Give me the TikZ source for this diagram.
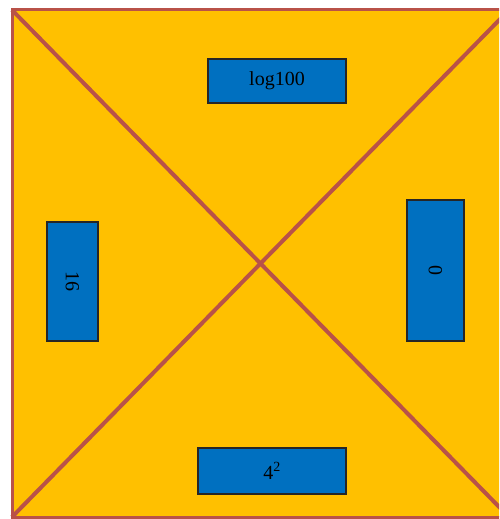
\documentclass[tikz,border=0pt]{standalone}
\usepackage{fontspec}
\setmainfont{Liberation Serif}
\usetikzlibrary{positioning}
\definecolor{cEdge}{RGB}{185,82,72}
\definecolor{cSq}{RGB}{255,192,0}
\definecolor{cBox}{RGB}{0,112,192}

\begin{document}
\begin{tikzpicture}[x=1pt,y=-1pt,
  card/.style={draw=black!85,fill=cBox,line width=1.3pt,inner sep=0pt,
    font=\fontsize{20}{20}\selectfont}]
  \useasboundingbox (0,0) rectangle (499,519);
  \clip (0,0) rectangle (499,519);
  \coordinate (tl) at (12,10);
  \coordinate (tr) at (509,10);
  \coordinate (bl) at (12,517);
  \coordinate (br) at (509,517);
  \fill[cSq] (tl) rectangle (br);
  \draw[cEdge,line width=3pt] (tl) rectangle (br);
  \draw[cEdge,line width=4pt] (tl) -- (br);
  \draw[cEdge,line width=4pt] (bl) -- (tr);
  \node[card,minimum width=138,minimum height=44] (top) at (277,81) {log100};
  \node[card,minimum width=148,minimum height=46] (bot) at (272,471) {4\textsuperscript{2}};
  \node[card,rotate=-90,minimum width=119,minimum height=51] (lft) at (72.5,281.5) {16};
  \node[card,rotate=-90,minimum width=141,minimum height=57] (rgt) at (435.5,270.5) {0};
\end{tikzpicture}
\end{document}
